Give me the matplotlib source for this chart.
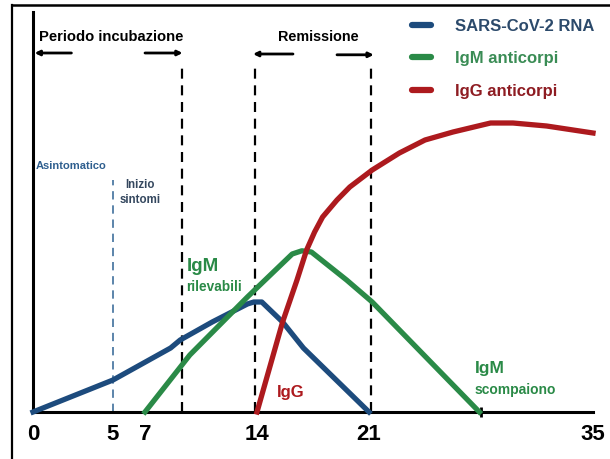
import matplotlib
matplotlib.use("Agg")
import matplotlib.pyplot as plt
from matplotlib import font_manager
from matplotlib.lines import Line2D

# days on x, arbitrary level (0-100) on y
rna_x = [0, 5, 8.6, 9.2, 11.2, 13.4, 13.8, 14.3, 15.6, 16.9, 21]
rna_y = [0, 8, 16, 18, 22.5, 27, 27.5, 27.5, 22.5, 16, 0]

igm_x = [7, 9.8, 13.4, 16.2, 16.8, 17.4, 19.6, 21.2, 27.9]
igm_y = [0, 14.25, 28.75, 39.5, 40.3, 40, 33, 27.5, 0]

igg_x = [14, 15.6, 16.5, 17.1, 17.6, 18.1, 19.0, 19.8, 21.2, 22.9, 24.5, 26.25, 28.6, 30, 32.1, 35]
igg_y = [0, 22.5, 33, 40.5, 45.0, 48.75, 53.0, 56.25, 60.5, 64.75, 68, 70, 72.25, 72.25, 71.5, 69.75]

tick_days = [0, 5, 7, 14, 21, 35]
mark_days = [0, 7, 14, 21, 28, 35]
series = ["SARS-CoV-2 RNA", "IgM anticorpi", "IgG anticorpi"]

c_blue = "#1d4b7d"
c_green = "#2a8a47"
c_red = "#ad1a1e"

names = {f.name for f in font_manager.fontManager.ttflist}
fam = "Liberation Sans Narrow" if "Liberation Sans Narrow" in names else "Liberation Sans"
plt.rcParams["font.family"] = fam
plt.rcParams["font.weight"] = "bold"

fig = plt.figure(figsize=(6.1, 4.59), dpi=100)
W, H = 610, 459
ax = fig.add_axes([33 / W, 1 - 412 / H, (593 - 33) / W, (412 - 12) / H])
ax.set_xlim(0, 35)
ax.set_ylim(0, 100)

lw = 3.8
ax.plot(rna_x, rna_y, color=c_blue, lw=lw, solid_joinstyle="round", clip_on=False, zorder=3, label=series[0])
ax.plot(igm_x, igm_y, color=c_green, lw=lw, solid_joinstyle="round", clip_on=False, zorder=3, label=series[1])
ax.plot(igg_x, igg_y, color=c_red, lw=lw, solid_joinstyle="round", clip_on=False, zorder=4, label=series[2])

# phase markers
for xv in [9.3, 13.9, 21.1]:
    ax.plot([xv, xv], [0, 86], color="black", lw=1.6, ls=(0, (4.5, 3)), zorder=2)
ax.plot([5, 5], [0, 58], color="#3f6f9c", lw=1.2, ls=(0, (5, 3.5)), zorder=2)

arrows = [(2.4, 0.1, 89.75), (7.0, 9.35, 89.75), (16.25, 13.75, 89.5), (19.0, 21.3, 89.3)]
for x0, x1, yv in arrows:
    ax.annotate("", xy=(x1, yv), xytext=(x0, yv),
                arrowprops=dict(arrowstyle="-|>", lw=2, color="black", mutation_scale=7,
                                shrinkA=0, shrinkB=0), annotation_clip=False)

ax.text(0.4, 93.8, "Periodo incubazione", fontsize=10.6, va="center", ha="left")
ax.text(15.3, 93.8, "Remissione", fontsize=10.4, va="center", ha="left")
ax.text(2.4, 61.5, "Asintomatico", fontsize=8, color="#2f5f8f", ha="center", va="center")
ax.text(6.7, 54.8, "Inizio\nsintomi", fontsize=8.3, color="#34475e", ha="center", va="center", linespacing=1.3)
ax.text(9.6, 36.3, "IgM", fontsize=13.5, color=c_green, ha="left", va="center")
ax.text(9.6, 31.2, "rilevabili", fontsize=9.8, color=c_green, ha="left", va="center")
ax.text(15.25, 4.8, "IgG", fontsize=12, color=c_red, ha="left", va="center")
ax.text(27.6, 11, "IgM", fontsize=12.5, color=c_green, ha="left", va="center")
ax.text(27.6, 5.5, "scompaiono", fontsize=10, color=c_green, ha="left", va="center")

leg = ax.legend(loc="upper left", bbox_to_anchor=(0.665, 1.0), frameon=False, fontsize=12,
                handlelength=1.15, handletextpad=1.45, labelspacing=1.05, borderaxespad=0,
                labelcolor=["#2c4a6b", "#3a8c55", "#8e1c22"])
for h in leg.legend_handles:
    h.set_linewidth(4.5)
    h.set_solid_capstyle("round")

for s in ["top", "right"]:
    ax.spines[s].set_visible(False)
ax.spines["left"].set_linewidth(2.2)
ax.spines["bottom"].set_linewidth(2.2)
ax.set_yticks([])
ax.set_xticks(tick_days)
ax.set_xticklabels([str(d) for d in tick_days], fontsize=16)
ax.tick_params(axis="x", which="major", length=0, pad=9)
ax.set_xticks(mark_days, minor=True)
ax.tick_params(axis="x", which="minor", length=7, width=2, direction="inout")

# outer frame of the original image
fig.add_artist(Line2D([12 / W, 12 / W], [0, 1 - 5 / H], color="black", lw=1.6))
fig.add_artist(Line2D([12 / W, 1], [1 - 5 / H, 1 - 5 / H], color="black", lw=1.8))

fig.savefig("out.png", dpi=100)
